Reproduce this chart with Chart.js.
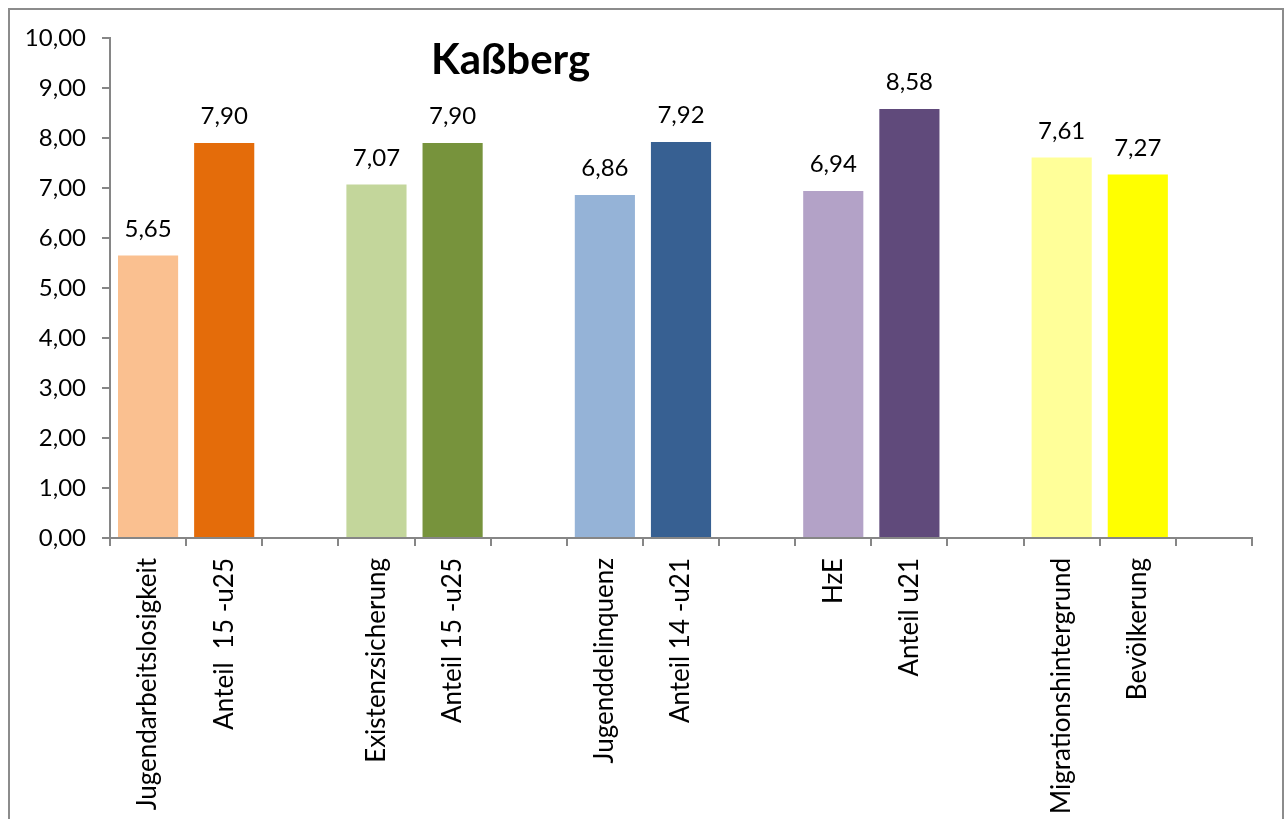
<!DOCTYPE html>
<html>
<head>
    <meta charset="utf-8" />
    <title>Kaßberg</title>
    <script src="https://cdn.jsdelivr.net/npm/chart.js"></script>
    <style>
        html, body { margin: 0; padding: 0; background: #fff; overflow: hidden; }
        .frame {
            position: absolute;
            left: 8px; top: 8px;
            width: 1272px; height: 840px;
            border: 2px solid #8c8c8c;
        }
        .box {
            position: absolute;
            left: 0; top: 0;
            width: 1285px; height: 819px;
        }
    </style>
</head>
<body>
    <div class="frame"></div>
    <div class="box">
        <canvas id="barChart"></canvas>
    </div>

<script>
    // data
    const labels = ["Jugendarbeitslosigkeit", "Anteil  15 -u25", "", "Existenzsicherung", "Anteil 15 -u25", "",
        "Jugenddelinquenz", "Anteil 14 -u21", "", "HzE", "Anteil u21", "",
        "Migrationshintergrund", "Bevölkerung", ""]
    const values = [5.65, 7.90, null, 7.07, 7.90, null, 6.86, 7.92, null, 6.94, 8.58, null, 7.61, 7.27, null]
    const barColors = ["#FAC090", "#E46C0A", "#fff", "#C3D69B", "#77933C", "#fff",
        "#95B3D7", "#376092", "#fff", "#B3A2C7", "#604A7B", "#fff",
        "#FFFF99", "#FFFF00", "#fff"]
    const yTicks = [0, 1, 2, 3, 4, 5, 6, 7, 8, 9, 10]
    const chartTitle = "Kaßberg"

    function fmt(v) {
        return v.toFixed(2).replace('.', ',')
    }

    const FONT = "Lato, 'Open Sans', sans-serif"

    // value labels above bars + title
    const extras = {
        id: 'extras',
        afterDatasetsDraw(chart) {
            const ctx = chart.ctx
            const meta = chart.getDatasetMeta(0)
            ctx.save()
            ctx.fillStyle = '#000'
            ctx.font = "24px " + FONT
            ctx.textAlign = 'center'
            ctx.textBaseline = 'alphabetic'
            meta.data.forEach(function (bar, i) {
                if (values[i] == null) return
                ctx.fillText(fmt(values[i]), bar.x, bar.y - 19)
            })
            ctx.font = "bold 42px " + FONT
            ctx.textAlign = 'left'
            ctx.fillText(chartTitle, 431, 74)
            ctx.restore()
        }
    }

    const axisColor = '#868686'

    new Chart(document.getElementById("barChart"), {
        type: 'bar',
        data: {
            labels: labels,
            datasets: [{
                data: values,
                backgroundColor: barColors,
                barPercentage: 0.79,
                categoryPercentage: 1.0
            }]
        },
        options: {
            responsive: true,
            maintainAspectRatio: false,
            animation: false,
            layout: { padding: { left: 0, top: 38, right: 33, bottom: 0 } },
            plugins: {
                legend: { display: false },
                title: { display: false },
                tooltip: { enabled: false }
            },
            scales: {
                x: {
                    grid: {
                        offset: true,
                        drawOnChartArea: false,
                        drawTicks: true,
                        tickLength: 8,
                        color: axisColor,
                        lineWidth: 2
                    },
                    border: { color: axisColor, width: 2 },
                    ticks: {
                        autoSkip: false,
                        minRotation: 90,
                        maxRotation: 90,
                        padding: 12,
                        color: '#000',
                        font: { family: FONT, size: 26 }
                    },
                    afterFit(scale) { scale.height = 281 }
                },
                y: {
                    min: 0,
                    max: 10,
                    afterBuildTicks(scale) {
                        scale.ticks = yTicks.map(v => ({ value: v }))
                    },
                    grid: {
                        drawOnChartArea: false,
                        drawTicks: true,
                        tickLength: 8,
                        color: axisColor,
                        lineWidth: 2
                    },
                    border: { color: axisColor, width: 2 },
                    ticks: {
                        padding: 16,
                        color: '#000',
                        font: { family: FONT, size: 24 },
                        callback: function (v) { return fmt(v) }
                    },
                    afterFit(scale) { scale.width = 110 }
                }
            }
        },
        plugins: [extras]
    });
</script>
</body>
</html>
